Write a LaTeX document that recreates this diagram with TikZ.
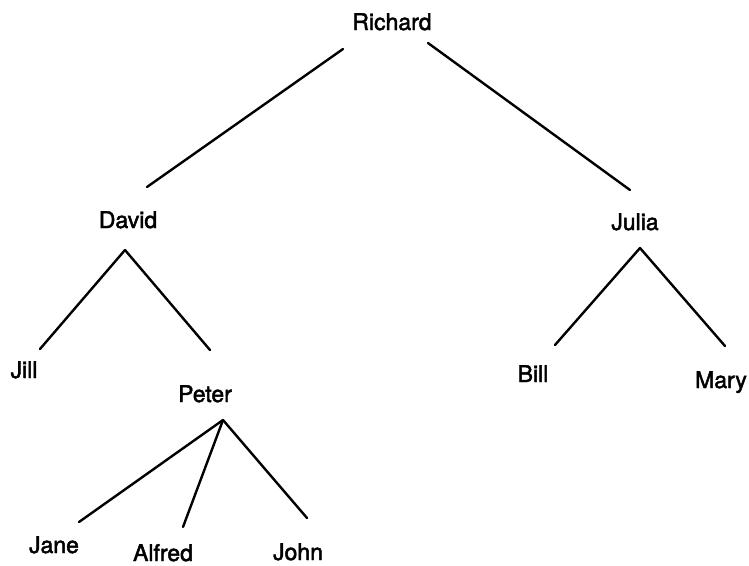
\documentclass[tikz,border=0pt]{standalone}
\usepackage{fontspec}
\setmainfont{TeX Gyre Heros}[UprightFeatures={FakeBold=2}]

\begin{document}
\begin{tikzpicture}%
	[x=1pt, y=-1pt,
	person/.style={anchor=base, inner sep=0pt, font=\fontsize{23}{27}\selectfont},
	edge/.style={line width=2.4pt, line cap=round}]
%
\useasboundingbox (0,0) rectangle (749,565);
%%
%% Placing the names
%%
\node[person] (richard) at (392,30)  {Richard};
\node[person] (david)   at (128,228) {David};
\node[person] (julia)   at (635,230) {Julia};
\node[person] (jill)    at (24,378)  {Jill};
\node[person] (peter)   at (205,402) {Peter};
\node[person] (bill)    at (533,382) {Bill};
\node[person] (mary)    at (721,388) {Mary};
\node[person] (jane)    at (54,553)  {Jane};
\node[person] (alfred)  at (163,561) {Alfred};
\node[person] (john)    at (298,560) {John};
%%
%% Forks below the parents
%%
\coordinate (davidfork) at ([shift={(-3,22)}]david.base);
\coordinate (juliafork) at ([shift={(5,18)}]julia.base);
\coordinate (peterfork) at ([shift={(18,18)}]peter.base);
%%
%% Drawing edges
%%
\draw[edge] ([shift={(-49,19)}]richard.base) -- ([shift={(19,-41)}]david.base);
\draw[edge] ([shift={(36,13)}]richard.base) -- ([shift={(-5,-40)}]julia.base);
\draw[edge] (davidfork) -- ([shift={(16,-29)}]jill.base);
\draw[edge] (davidfork) -- ([shift={(5,-52)}]peter.base);
\draw[edge] (juliafork) -- ([shift={(22,-37)}]bill.base);
\draw[edge] (juliafork) -- ([shift={(4,-42)}]mary.base);
\draw[edge] (peterfork) -- ([shift={(25,-31)}]jane.base);
\draw[edge] (peterfork) -- ([shift={(20,-34)}]alfred.base);
\draw[edge] (peterfork) -- ([shift={(9,-42)}]john.base);
%%
\end{tikzpicture}
\end{document}
